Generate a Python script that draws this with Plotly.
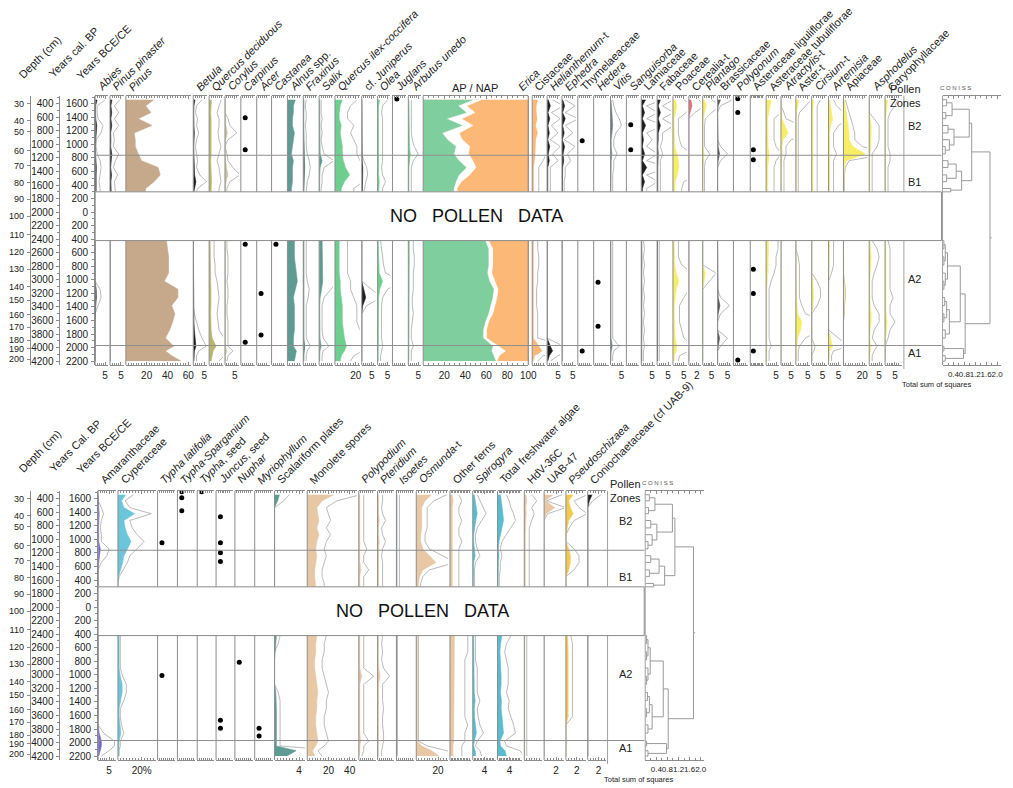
import plotly.graph_objects as go

W, H = 1013, 788
FONT = "Liberation Sans, Arial, Helvetica, sans-serif"
TXT = "#222222"
AXC = "#8c8c8c"

# ---------------- data ----------------
sample_age = [340, 430, 530, 620, 720, 830, 930, 1030, 1140, 1240, 1340, 1450, 1550, 1650, 1700,
              2420, 2540, 2660, 2780, 2900, 3020, 3140, 3260, 3380, 3500, 3620, 3740, 3860, 3980, 4050, 4120, 4200]
hiatus_age = [1700, 2420]
zone_bounds = [1160, 3970]
zone_names = ["B2", "B1", "A2", "A1"]
zone_label_age = [730, 1560, 2985, 4080]

depth_cm = [20, 30, 40, 50, 60, 70, 80, 90, 100, 110, 120, 130, 140, 150, 160, 170, 180, 190, 200]
depth_age = [280, 400, 650, 810, 1090, 1310, 1560, 1810, 2060, 2330, 2590, 2840, 3100, 3300, 3510, 3700, 3890, 4020, 4170]
cal_bp_ticks = [200, 400, 600, 800, 1000, 1200, 1400, 1600, 1800, 2000, 2200, 2400, 2600, 2800, 3000,
                3200, 3400, 3600, 3800, 4000, 4200]
bce_ce_labels = ["1800", "1600", "1400", "1200", "1000", "800", "600", "400", "200", "0", "200", "400",
                 "600", "800", "1000", "1200", "1400", "1600", "1800", "2000", "2200"]

# top diagram taxa (percent)
abies = [1.0, 0.2, 0.2, 0.3, 0.8, 0.6, 0.1, 0.1, 0.2, 0.5, 0.6, 0.5, 0.4, 0.5, 0.5,
         0, 0, 0, 0, 0, 0, 0.5, 0.6, 0.3, 0, 0, 0, 0, 0, 0, 0, 0]
pinus_pinaster = [0.9, 0.4, 0.8, 0.4, 0.8, 0.3, 0.4, 0.3, 0.8, 0.5, 0.3, 0.7, 0.4, 0.5, 0.5,
                  0, 0, 0, 0, 0, 0, 0, 0, 0, 0, 0, 0, 0, 0, 0, 0, 0]
pinus = [27, 19, 24, 12, 25, 8, 9, 9, 12, 15, 31, 33, 27, 19, 19,
         39, 40, 41, 41, 41, 37, 50, 50, 44, 47, 45, 42, 38, 46, 38, 44, 53]
betula = [0.8, 0.3, 0.2, 0.4, 0.3, 0.5, 0.3, 0.2, 0.3, 0.4, 0.3, 0.6, 1.2, 0.4, 0.3,
          0, 0, 0, 0, 0, 0, 0, 0, 0, 0.1, 0.3, 0.5, 0.8, 1.2, 0.5, 0.3, 0.3]
quercus_deciduous = [1.2, 1.0, 0.8, 1.0, 1.0, 0.9, 1.0, 1.2, 1.0, 0.8, 1.0, 1.1, 1.2, 1.0, 1.0,
                     0.5, 0.5, 0.5, 0.6, 0.6, 0.8, 0.9, 1.0, 0.9, 0.8, 0.9, 1.0, 1.5, 3.5, 2.0, 1.5, 1.0]
corylus = [0, 0, 0, 0.3, 0.5, 1.2, 0.3, 0, 0.2, 0.3, 0.8, 1.5, 0.5, 0.2, 0.2,
           0.2, 0.2, 0.3, 0.3, 0.3, 0.2, 0.3, 0.3, 0.2, 0.2, 0.3, 0.3, 0.3, 0.3, 0.8, 0.3, 0.2]
carpinus_ages = [605, 1080, 2475, 3920]
acer_ages = [3200, 3815]
castanea_ages = [2475]
alnus = [8, 6, 6, 5, 5, 7, 6, 5, 4, 6, 5, 5, 5, 4, 4,
         7, 7, 7, 8, 9, 10, 8, 6, 7, 7, 7, 7, 6, 6, 9, 8, 7]
fraxinus = [0.3, 0.2, 0.3, 0.3, 0.2, 0.3, 0.3, 0.3, 0.4, 0.6, 0.7, 0.6, 0.4, 0.3, 0.3,
            0.3, 0.3, 0.3, 0.3, 0.3, 0.4, 0.6, 0.5, 0.3, 0.3, 0.3, 0.3, 0.3, 0.7, 0.4, 0.3, 0.3]
salix = [0.2, 0.2, 0.2, 0.3, 0.2, 0.3, 0.2, 0.3, 0.5, 1.5, 0.5, 0.3, 0.3, 0.2, 0.2,
         1.5, 1.6, 1.5, 1.5, 1.6, 1.8, 1.2, 0.5, 0.3, 0.3, 0.3, 0.3, 0.4, 1.0, 0.4, 0.3, 0.3]
quercus_ilex = [7, 5, 4, 4, 6, 5, 6, 7, 7, 8, 10, 14, 9, 6, 6,
                4, 4, 4, 4, 4, 5, 5, 6, 7, 7, 7, 8, 9, 11, 9, 6, 5]
juniperus = [0, 0, 0, 0, 0, 0, 0, 0, 0, 0.2, 0.5, 0.6, 0.4, 0.3, 0.2,
             0, 0, 0, 0, 0, 0, 1.0, 2.0, 0.5, 0, 0, 0, 0, 0, 0, 0, 0]
olea = [1.0, 0.5, 0.4, 0.5, 0.5, 0.5, 0.5, 0.5, 0.5, 0.5, 0.4, 0.5, 0.8, 0.5, 0.5,
        0.3, 0.4, 0.5, 0.6, 0.8, 2.5, 1.0, 0.5, 0.4, 0.4, 0.4, 0.4, 0.4, 0.5, 0.4, 0.3, 0.3]
juglans_ages = [330]
arbutus = [0.3, 0.3, 0.3, 0.3, 0.3, 0.3, 0.4, 0.6, 1.0, 0.5, 0.3, 0.3, 0.3, 0.3, 0.3,
           0.5, 0.5, 0.6, 0.6, 0.5, 0.5, 0.5, 0.4, 0.4, 0.5, 0.4, 0.3, 0.3, 0.5, 0.3, 0.3, 0.3]
ap_sum = [47, 33, 41, 22, 37, 18, 23, 31, 29, 34, 41, 34, 31, 29, 29,
          59, 62, 62, 62, 61, 63, 67, 66, 64, 62, 59, 57, 57, 66, 65, 67, 69]
ap_gap = [55, 41, 49, 36, 47, 34, 37, 44, 43, 47, 50, 44, 36, 32, 32,
          62, 66, 66, 66, 65, 68, 71, 70, 68, 66, 62, 60, 60, 72, 78, 72, 70]
apnap_total = 100
cistaceae = [2.5, 1.8, 1.8, 2.2, 1.5, 2.4, 1.5, 1.5, 1.3, 1.0, 0.6, 0.6, 0.6, 0.6, 0.6,
             0.5, 0.5, 0.6, 0.6, 0.5, 0.5, 0.4, 0.4, 0.4, 0.5, 0.5, 0.5, 0.5, 3.0, 4.5, 1.0, 0.5]
helianthemum = [0.5, 1.5, 0.4, 1.2, 0.4, 1.0, 0.3, 1.2, 0.5, 1.0, 0.3, 0.3, 0.3, 0.3, 0.3,
                0, 0, 0, 0, 0, 0, 0, 0, 0, 0, 0, 0, 0, 1.5, 2.5, 1.0, 0.3]
ephedra = [0.3, 1.2, 0.3, 1.5, 0.3, 1.0, 0.2, 1.2, 0.5, 0.8, 0.3, 0.3, 0.2, 0.2, 0.2,
           0, 0, 0, 0, 0, 0, 0, 0, 0, 0, 0, 0, 0, 0, 0, 0, 0]
thymelaeaceae_ages = [945, 4050]
hedera_ages = [3035, 3685]
vitis = [0.2, 0.3, 0.5, 0.8, 1.0, 0.5, 0.3, 0.3, 0.6, 0.3, 0.3, 0.2, 0.2, 0.2, 0.2,
         0.2, 0.2, 0.2, 0.2, 0.2, 0.2, 0.2, 0.2, 0.2, 0.2, 0.2, 0.2, 0.2, 0.8, 0.3, 0.2, 0.2]
sanguisorba_ages = [710, 1080]
lamiaceae = [2.0, 0.5, 1.5, 0.5, 2.0, 0.5, 1.0, 0.5, 1.5, 0.5, 2.5, 0.5, 1.5, 0.5, 0.5,
             0.2, 0.3, 0.2, 0.3, 0.2, 0.3, 0.2, 0.3, 0.2, 0.3, 0.2, 0.3, 0.2, 0.3, 0.2, 0.2, 0.2]
fabaceae = [1.5, 0.5, 1.5, 0.5, 1.5, 0.5, 0.5, 0.3, 0.5, 0.3, 0.3, 0.3, 0.3, 0.3, 0.3,
            0.2, 0.2, 0.2, 0.2, 0.2, 0.2, 0.2, 0.2, 0.2, 0.2, 0.2, 0.2, 0.2, 0.2, 0.2, 0.2, 0.2]
poaceae = [1.0, 1.8, 1.2, 0.5, 0.5, 0.5, 0.6, 0.8, 1.8, 2.5, 2.7, 2.0, 1.0, 0.8, 0.8,
           0.5, 0.5, 0.5, 0.8, 1.5, 2.7, 1.5, 1.0, 0.6, 0.6, 0.6, 0.8, 1.0, 1.8, 1.5, 0.6, 0.5]
cerealia = [0.5, 0.8, 0.3, 0, 0, 0, 0, 0, 0, 0, 0, 0, 0, 0, 0,
            0, 0, 0, 0, 0, 0, 0, 0, 0, 0, 0, 0, 0, 0, 0, 0, 0]
plantago = [1.0, 2.0, 1.0, 0.3, 0.2, 0.2, 0.2, 0.2, 0.8, 0.3, 0.2, 0.2, 0.2, 0.2, 0.2,
            0, 0, 0, 0, 1.5, 0.8, 0, 0, 0, 0, 0, 0, 0, 0, 0, 0, 0]
brassicaceae = [1.5, 0.3, 0, 0, 0, 0, 0, 0.3, 1.0, 0.3, 0, 0, 0, 0, 0,
                0, 0, 0, 0, 0, 0, 0, 0.3, 1.2, 0.3, 0, 0, 1.0, 0.3, 0, 0, 0]
polygonum_ages = [325, 530, 4185]
ast_lig_ages = [1080, 1225, 2845, 3200, 4050]
ast_tub = [2.5, 2.0, 1.5, 0.8, 0.8, 0.8, 0.8, 1.0, 1.5, 1.0, 0.8, 0.8, 0.8, 0.8, 0.8,
           1.2, 1.2, 1.0, 1.0, 0.8, 0.5, 0.3, 0.3, 0.3, 0.3, 0.3, 0.3, 0.3, 0.5, 0.3, 0.3, 0.3]
atractylis = [0, 0, 0.3, 0.5, 2.0, 3.5, 1.0, 0.5, 0.5, 0.3, 0.3, 0.3, 0.3, 0.3, 0.3,
              0, 0, 0, 0, 0, 0, 0, 0, 0, 0, 0, 0, 0, 0, 0, 0, 0]
aster_t = [1.3, 0.8, 0.3, 0.2, 0.2, 0.2, 0.2, 0.2, 0.2, 0.2, 0.2, 0.2, 0.2, 0.2, 0.2,
           0, 0, 0.2, 0.3, 0.3, 0.3, 0.3, 0.3, 0.5, 0.8, 2.5, 2.0, 0.8, 0.3, 0.2, 0.2, 0.2]
cirsium = [0.8, 0.5, 0.5, 0.5, 0.5, 0.5, 0.5, 0.5, 0.5, 0.5, 0.5, 0.5, 0.5, 0.5, 0.5,
           0, 0, 0, 0, 0, 0.5, 0.8, 0.8, 0.5, 0, 0, 0, 0, 0.3, 0.2, 0, 0]
artemisia = [0.5, 0.8, 1.5, 2.0, 1.0, 0.5, 0.5, 0.5, 0.8, 0.5, 0.5, 0.5, 0.5, 0.5, 0.5,
             0.5, 0.5, 0.5, 0.5, 0.3, 0, 0, 0, 0, 0, 0, 0, 1.0, 2.0, 0.5, 0.3, 0.3]
apiaceae = [1, 2, 3, 4, 5, 6, 6, 10, 23, 3, 1, 0.5, 0.5, 0.5, 0.5,
            0, 0, 0, 0, 0, 0.5, 1.0, 1.0, 0.5, 0.5, 0, 0, 0, 0, 0, 0, 0]
asphodelus = [0, 0, 0, 0.5, 1.0, 1.0, 1.0, 0.8, 0.3, 0.3, 0.3, 0.3, 0.3, 0.3, 0.3,
              0.3, 0.8, 1.0, 0.8, 0.5, 0.3, 0.3, 0.3, 0.5, 1.0, 1.0, 0.5, 0.3, 0.8, 0.5, 0.3, 0.3]
caryophyllaceae = [1.3, 1.0, 0.5, 0.3, 0.3, 0.3, 0.3, 0.3, 0.5, 0.5, 0.3, 0.3, 0.3, 0.3, 0.3,
                   0.3, 0.5, 0.5, 0.5, 0.5, 0.5, 0.5, 0.8, 0.5, 0.5, 1.0, 0.5, 0.3, 0, 0, 0, 0]

# bottom diagram taxa
amaranthaceae = [0, 0, 0.3, 0.5, 0.3, 0.2, 0.3, 0.3, 1.0, 0.8, 0.3, 0, 0, 0, 0,
                 0, 0, 0, 0, 0, 0, 0, 0, 0, 0, 0, 0, 0.5, 1.5, 1.5, 1.0, 0.3]
cyperaceae = [6.5, 3, 5, 14, 5, 6, 8, 11, 8, 5, 4, 2, 0.5, 0, 0,
              1, 1, 1, 1, 1, 2, 3.5, 3.5, 2.5, 1, 1, 1.5, 2.5, 1, 1, 0.5, 0.5]
typha_latifolia_ages = [1050, 3010]
typha_sparganium_ages = [295, 385, 575]
typha_seed_ages = [295]
juncus_seed_ages = [665, 1050, 1195, 1325, 3670, 3790]
nuphar_ages = [2815]
myriophyllum_ages = [3790, 3905]
scalariform = [0.8, 0.5, 0, 0, 0, 0, 0, 0, 0, 0, 0, 0, 0, 0, 0,
               0.3, 0.2, 0, 0, 0, 0, 0, 0.2, 0.3, 0.3, 0.3, 0.3, 0.3, 0.3, 0.3, 3.5, 2.0]
monolete = [25, 14, 9, 10, 11, 9, 11, 9, 8, 9, 8, 7, 7, 8, 8,
            9, 8, 8, 7, 7, 8, 9, 10, 9, 9, 8, 8, 9, 10, 8, 5, 7]
polypodium = [0.5, 0.5, 0.5, 0.5, 0.5, 0.5, 0.5, 0.5, 0.8, 0.5, 0.5, 1.0, 0.5, 0.5, 0.5,
              0.5, 0.5, 0.5, 0.5, 0.5, 1.5, 0.5, 0.5, 0.5, 0.5, 0.5, 0.5, 0.5, 1.0, 0.5, 0.5, 0.3]
pteridium = [0.5, 0.5, 0.4, 0.5, 0.8, 0.4, 0.5, 0.8, 0.5, 0.4, 0.5, 0.5, 0.5, 0.5, 0.5,
             0.5, 0.4, 0.5, 0.4, 0.6, 1.2, 0.5, 0.5, 0.5, 0.6, 0.5, 0.5, 0.6, 0.6, 0.5, 0.4, 0.4]
isoetes = [0.3, 0.3, 0.3, 0.3, 0.3, 0.3, 0.3, 0.3, 0.3, 0.3, 0.3, 0.3, 0.3, 0.3, 0.3,
           0.1, 0.1, 0.1, 0.1, 0.1, 0.1, 0.1, 0.1, 0.1, 0.1, 0.1, 0.1, 0.1, 0.1, 0.1, 0.1, 0.1]
osmunda = [14, 8, 5, 5, 5, 5, 4, 4, 6, 12, 18, 6, 3, 2, 2,
           1, 1, 1, 1, 1, 1, 1, 1, 1, 1, 1, 1, 1, 1, 5, 14, 21]
other_ferns = [1.5, 2, 1.5, 1.5, 2, 1.5, 1.5, 2, 1.5, 1.5, 1.5, 1.5, 1.5, 1.5, 1.5,
               3, 3, 3, 2.5, 2.5, 2.5, 2.5, 2.5, 2.5, 2.5, 2.5, 3, 2.5, 2.5, 2, 2, 2]
spirogyra = [0.5, 0.8, 1.2, 1.5, 1.0, 0.5, 0.3, 0.3, 0.5, 0.8, 0.3, 0.2, 0.2, 0.2, 0.2,
             0.3, 0.3, 0.3, 0.3, 0.5, 0.5, 0.5, 0.5, 0.8, 0.5, 0.6, 0.8, 1.2, 0.5, 0.3, 0.8, 1.0]
fw_algae = [1.0, 1.3, 1.5, 1.8, 2.0, 1.5, 1.0, 0.5, 0.3, 0.5, 0.3, 0.3, 0.2, 0.2, 0.2,
            1.5, 1.0, 0.8, 1.0, 1.2, 1.2, 1.2, 1.0, 1.3, 1.2, 1.5, 1.8, 2.0, 0.8, 1.0, 2.5, 3.0]
hdv36c = [0.3, 0.5, 0.3, 0.4, 0.3, 0.2, 0.2, 0.2, 0.2, 0.2, 0.2, 0.2, 0.2, 0.2, 0.2,
          0.1, 0.1, 0.1, 0.1, 0.1, 0.1, 0.1, 0.1, 0.1, 0.1, 0.1, 0.1, 0.1, 0.1, 0.1, 0.1, 0.1]
uab47 = [1.5, 0.2, 1.8, 0.3, 0, 0, 0, 0, 0, 0, 0, 0, 0, 0, 0,
         0, 0, 0, 0, 0, 0, 0, 0, 0, 0, 0, 0, 0, 0, 0, 0, 0]
pseudoschizaea = [1.3, 0.5, 0.8, 1.3, 0.5, 0.2, 0, 0, 0.5, 0.8, 0.8, 0.5, 0, 0, 0,
                  0.3, 0.4, 0.4, 0.4, 0.4, 0.4, 0.4, 0.4, 0.4, 0.4, 0.4, 0, 0, 0, 0, 0, 0]
coniochaetaceae = [0.8, 0.3, 0, 0, 0, 0, 0, 0, 0, 0, 0, 0, 0, 0, 0,
                   0, 0, 0, 0, 0, 0, 0, 0, 0, 0, 0, 0, 0, 0, 0, 0, 0]

# CONISS merges: [first leaf, split leaf, end leaf, total sum of squares]
coniss_merges = [
    [0, 1, 2, 0.15], [2, 3, 4, 0.12], [0, 2, 4, 0.35], [4, 5, 6, 0.2], [7, 8, 9, 0.1], [6, 7, 9, 0.25],
    [4, 6, 9, 0.42], [0, 4, 9, 0.98],
    [9, 10, 11, 0.2], [11, 12, 13, 0.15], [9, 11, 13, 0.5], [13, 14, 15, 0.3], [9, 13, 15, 0.7],
    [0, 9, 15, 1.07],
    [15, 16, 17, 0.05], [17, 18, 19, 0.05], [15, 17, 19, 0.1], [20, 21, 22, 0.05], [19, 20, 22, 0.1],
    [15, 19, 22, 0.18],
    [22, 23, 24, 0.08], [24, 25, 26, 0.05], [22, 24, 26, 0.15], [26, 27, 28, 0.1], [22, 26, 28, 0.25],
    [15, 22, 28, 0.65],
    [28, 29, 30, 0.05], [30, 31, 32, 0.1], [28, 30, 32, 0.77], [15, 28, 32, 0.83],
    [0, 15, 32, 1.74],
]

# ---------------- colours ----------------
BLACK = "#1e1e1e"
BROWN = "#c6a98b"
OLIVE = "#b9b66c"
OLIVE2 = "#c9c7a0"
TEAL = "#5e9b93"
TEAL_D = "#3f6f6a"
QGREEN = "#6dcf8e"
APGREEN = "#7ecf9d"
ORANGE = "#fbb877"
YELLOW = "#f6ef66"
RED = "#e0707a"
GREYF = "#6f7f86"
BLUE = "#6cc6da"
BLUE2 = "#58bccf"
TAN = "#e8c7a5"
PURPLE = "#7468d8"
GOLD = "#f5c84e"
STEEL = "#7aa7b8"
EXAG = "#a8a8a8"

# ---------------- geometry helpers ----------------
def px(x):
    return x / W


def py(y):
    return 1 - y / H


PX_PER_YR = 0.06788
PANELS = {
    "top": dict(y="y", top=96, bottom=366, ref=90.5, left=96, right=950, lab=91, zone_x=912,
                zone_lab_x=931, coniss=(951, 1012, 27.5)),
    "bot": dict(y="y2", top=492, bottom=762, ref=486.5, left=99, right=650, lab=485, zone_x=613,
                zone_lab_x=631, coniss=(651, 712, 28.0)),
}


def age_at(pix, panel):
    return 200 + (pix - panel["ref"]) / PX_PER_YR


fig = go.Figure()
layout = {}
shapes = []
annotations = []
ax_counter = [0]

sections = [[i for i, a in enumerate(sample_age) if a <= hiatus_age[0]],
            [i for i, a in enumerate(sample_age) if a >= hiatus_age[1]]]


def new_xaxis(x0, x1, scale, panel, tickvals, ticktext=None, minor_dtick=None, fsize=10):
    ax_counter[0] += 1
    n = ax_counter[0]
    key = "xaxis" if n == 1 else f"xaxis{n}"
    ref = "x" if n == 1 else f"x{n}"
    width = x1 - x0
    d = dict(domain=[px(x0), px(x1)], range=[0, width / scale], anchor=panel["y"],
             showgrid=False, zeroline=False, showline=True, linecolor=AXC, linewidth=1,
             mirror="ticks", ticks="inside", ticklen=3, tickcolor=AXC, fixedrange=True,
             tickfont=dict(size=fsize, color=TXT, family=FONT), tickmode="array", tickangle=0,
             tickvals=tickvals, ticktext=ticktext if ticktext else [str(v) for v in tickvals],
             showticklabels=bool(tickvals), ticklabelstandoff=1)
    if minor_dtick:
        d["minor"] = dict(dtick=minor_dtick, ticks="inside", ticklen=2, tickcolor=AXC, showgrid=False)
    layout[key] = d
    return ref


def vline(x, y0p, y1p, color=AXC, width=1):
    shapes.append(dict(type="line", xref="paper", yref="paper", x0=px(x), x1=px(x),
                       y0=py(y0p), y1=py(y1p), line=dict(color=color, width=width)))


def rot_label(text, x, ybase, size=11):
    annotations.append(dict(text=text, x=px(x - 1), y=py(ybase + 2), xref="paper", yref="paper",
                            xanchor="left", yanchor="bottom", textangle=-45, showarrow=False,
                            borderpad=0, borderwidth=0,
                            font=dict(size=size, color=TXT, family=FONT)))


def add_area(xr, yr, values, color, exag):
    for sec in sections:
        ages = [sample_age[i] for i in sec]
        vals = [values[i] for i in sec]
        if exag:
            fig.add_trace(go.Scatter(x=[v * exag for v in vals], y=ages, xaxis=xr, yaxis=yr,
                                     mode="lines", line=dict(color=EXAG, width=0.8),
                                     hoverinfo="skip", showlegend=False))
        fig.add_trace(go.Scatter(x=vals, y=ages, xaxis=xr, yaxis=yr, mode="lines", fill="tozerox",
                                 fillcolor=color, line=dict(color=color, width=0.6),
                                 hoverinfo="skip", showlegend=False))


def add_dots(xr, yr, ages):
    fig.add_trace(go.Scatter(x=[2.2] * len(ages), y=ages, xaxis=xr, yaxis=yr, mode="markers",
                             marker=dict(color="black", size=5), hoverinfo="skip", showlegend=False))


def add_apnap(xr, yr):
    for sec in sections:
        ages = [sample_age[i] for i in sec]
        fig.add_trace(go.Scatter(x=[apnap_total] * len(ages), y=ages, xaxis=xr, yaxis=yr, mode="lines",
                                 fill="tozerox", fillcolor=ORANGE, line=dict(color=ORANGE, width=0.5),
                                 hoverinfo="skip", showlegend=False))
        fig.add_trace(go.Scatter(x=[ap_gap[i] for i in sec], y=ages, xaxis=xr, yaxis=yr, mode="lines",
                                 fill="tozerox", fillcolor="white", line=dict(color="white", width=1),
                                 hoverinfo="skip", showlegend=False))
        fig.add_trace(go.Scatter(x=[ap_sum[i] for i in sec], y=ages, xaxis=xr, yaxis=yr, mode="lines",
                                 fill="tozerox", fillcolor=APGREEN, line=dict(color=APGREEN, width=0.5),
                                 hoverinfo="skip", showlegend=False))


def add_dendrogram(xr, yr):
    nodes = {(i, i + 1): (a, 0.0) for i, a in enumerate(sample_age)}
    xs, ys = [], []
    for a, b, c, h in coniss_merges:
        yl, hl = nodes[(a, b)]
        yr_, hr = nodes[(b, c)]
        xs += [hl, h, h, hr, None]
        ys += [yl, yl, yr_, yr_, None]
        nodes[(a, c)] = ((yl + yr_) / 2, h)
    ry, rh = nodes[(0, len(sample_age))]
    xs += [rh, rh + 0.06]
    ys += [ry, ry]
    fig.add_trace(go.Scatter(x=xs, y=ys, xaxis=xr, yaxis=yr, mode="lines",
                             line=dict(color="#9a9a9a", width=1), hoverinfo="skip", showlegend=False))


# column definitions: label, x0, x1, kind, data, colour, px per unit, exaggeration, tick labels
TOP_COLUMNS = [
    ("<i>Abies</i>", 96, 111, "area", abies, BLACK, 2.0, 5, [5]),
    ("<i>Pinus pinaster</i>", 111, 127, "area", pinus_pinaster, BLACK, 2.2, 5, [5]),
    ("<i>Pinus</i>", 127, 195, "area", pinus, BROWN, 1.05, None, [20, 40, 60]),
    ("<i>Betula</i>", 195, 211, "area", betula, BLACK, 2.2, 5, [5]),
    ("<i>Quercus deciduous</i>", 211, 227, "area", quercus_deciduous, OLIVE, 2.0, 5, []),
    ("<i>Corylus</i>", 227, 243, "area", corylus, OLIVE2, 2.0, 5, [5]),
    ("<i>Carpinus</i>", 243, 259, "dots", carpinus_ages, None, 2.0, None, []),
    ("<i>Acer</i>", 259, 274, "dots", acer_ages, None, 2.0, None, []),
    ("<i>Castanea</i>", 274, 290, "dots", castanea_ages, None, 2.0, None, []),
    ("<i>Alnus</i> spp.", 290, 306, "area", alnus, TEAL, 1.0, None, []),
    ("<i>Fraxinus</i>", 306, 322, "area", fraxinus, TEAL_D, 2.0, 5, []),
    ("<i>Salix</i>", 322, 338, "area", salix, TEAL, 2.0, 5, []),
    ("<i>Quercus ilex-coccifera</i>", 338, 365, "area", quercus_ilex, QGREEN, 1.05, 3, [20]),
    ("cf. <i>Juniperus</i>", 365, 381, "area", juniperus, BLACK, 2.0, 5, [5]),
    ("<i>Olea</i>", 381, 396, "area", olea, QGREEN, 2.0, 5, [5]),
    ("<i>Juglans</i>", 396, 412, "dots", juglans_ages, None, 2.0, None, []),
    ("<i>Arbutus unedo</i>", 412, 427, "area", arbutus, QGREEN, 2.0, 5, [5]),
    (None, 427, 535, "apnap", None, None, 1.06, None, [20, 40, 60, 80, 100]),
    ("Cistaceae", 537, 552, "area", cistaceae, ORANGE, 2.2, 5, []),
    ("<i>Helianthemum</i>-t", 552, 567, "area", helianthemum, BLACK, 2.2, 5, [5]),
    ("<i>Ephedra</i>", 567, 583, "area", ephedra, BLACK, 2.2, 5, [5]),
    ("Thymelaeaceae", 583, 599, "dots", thymelaeaceae_ages, None, 2.0, None, []),
    ("<i>Hedera</i>", 599, 616, "dots", hedera_ages, None, 2.0, None, []),
    ("<i>Vitis</i>", 616, 632, "area", vitis, GREYF, 2.2, 5, [5]),
    ("<i>Sanguisorba</i>", 632, 647, "dots", sanguisorba_ages, None, 2.0, None, []),
    ("Lamiaceae", 647, 663, "area", lamiaceae, BLACK, 2.2, 5, [5]),
    ("Fabaceae", 663, 679, "area", fabaceae, BLACK, 2.2, 5, [5]),
    ("Poaceae", 679, 695, "area", poaceae, YELLOW, 2.2, 5, [5]),
    ("Cerealia-t", 695, 709, "area", cerealia, RED, 4.0, 5, [2]),
    ("<i>Plantago</i>", 709, 724, "area", plantago, YELLOW, 1.8, 5, [5]),
    ("Brassicaceae", 724, 740, "area", brassicaceae, "#555555", 2.0, 5, [5]),
    ("<i>Polygonum</i>", 740, 757, "dots", polygonum_ages, None, 2.0, None, []),
    ("Asteraceae liguliflorae", 757, 773, "dots", ast_lig_ages, None, 1.4, None, []),
    ("Asteraceae tubuliflorae", 773, 788, "area", ast_tub, YELLOW, 2.0, 5, [5]),
    ("<i>Atractylis</i>-t", 788, 803, "area", atractylis, YELLOW, 2.0, 5, [5]),
    ("Aster-t", 803, 819, "area", aster_t, YELLOW, 2.4, 5, [5]),
    ("<i>Cirsium</i>-t", 819, 836, "area", cirsium, YELLOW, 2.2, 5, [5]),
    ("<i>Artemisia</i>", 836, 851, "area", artemisia, YELLOW, 2.0, 5, [5]),
    ("Apiaceae", 851, 877, "area", apiaceae, YELLOW, 0.95, 2, [20]),
    ("<i>Asphodelus</i>", 877, 893, "area", asphodelus, YELLOW, 2.0, 5, [5]),
    ("Caryophyllaceae", 893, 912, "area", caryophyllaceae, YELLOW, 2.0, 5, [5]),
]

BOT_COLUMNS = [
    ("Amaranthaceae", 99, 119, "area", amaranthaceae, PURPLE, 2.2, 5, [5], None),
    ("Cyperaceae", 119, 159, "area", cyperaceae, BLUE, 1.2, 2, [20], ["20%"]),
    ("<i>Typha latifolia</i>", 159, 179, "dots", typha_latifolia_ages, None, 2.0, None, [], None),
    ("<i>Typha-Sparganium</i>", 179, 199, "dots", typha_sparganium_ages, None, 2.0, None, [], None),
    ("<i>Typha</i>, seed", 199, 218, "dots", typha_seed_ages, None, 2.0, None, [], None),
    ("<i>Juncus</i>, seed", 218, 237, "dots", juncus_seed_ages, None, 2.0, None, [], None),
    ("<i>Nuphar</i>", 237, 257, "dots", nuphar_ages, None, 2.0, None, [], None),
    ("<i>Myriophyllum</i>", 257, 277, "dots", myriophyllum_ages, None, 2.0, None, [], None),
    ("Scalariform plates", 277, 310, "area", scalariform, TEAL, 6.2, 3, [4], None),
    ("Monolete spores", 310, 362, "area", monolete, TAN, 1.07, 2, [20, 40], None),
    ("<i>Polypodium</i>", 362, 381, "area", polypodium, TAN, 2.0, 5, [], None),
    ("<i>Pteridium</i>", 381, 400, "area", pteridium, TAN, 2.0, 5, [], None),
    ("<i>Isoetes</i>", 400, 420, "area", isoetes, STEEL, 2.0, 5, [], None),
    ("<i>Osmunda</i>-t", 420, 454, "area", osmunda, TAN, 1.1, 2, [20], None),
    ("Other ferns", 454, 477, "area", other_ferns, TAN, 1.5, 4, [], None),
    ("<i>Spirogyra</i>", 477, 502, "area", spirogyra, BLUE2, 3.0, 3, [4], None),
    ("Total freshwater algae", 502, 529, "area", fw_algae, BLUE2, 3.0, 3, [4], None),
    ("HdV-36C", 529, 549, "area", hdv36c, TAN, 5.0, 5, [], None),
    ("UAB-47", 549, 571, "area", uab47, TAN, 6.0, 2, [2], None),
    ("<i>Pseudoschizaea</i>", 571, 593, "area", pseudoschizaea, GOLD, 5.5, 3, [2], None),
    ("Coniochaetaceae (cf UAB-9)", 593, 613, "area", coniochaetaceae, BLACK, 5.5, 3, [2], None),
]


def build_panel(pname, columns):
    P = PANELS[pname]
    yr = P["y"]
    for col in columns:
        label, x0, x1, kind, data, color, scale, exag, ticks = col[:9]
        ttext = col[9] if len(col) > 9 else None
        minor = 2.5 if scale <= 1.2 else (1 if scale < 3 else 0.5)
        if kind == "apnap":
            minor = 5
        xr = new_xaxis(x0, x1 - 2, scale, P, ticks, ttext, minor)
        vline(x0, P["top"], P["bottom"])
        if kind == "area":
            add_area(xr, yr, data, color, exag)
        elif kind == "dots":
            add_dots(xr, yr, data)
        elif kind == "apnap":
            add_apnap(xr, yr)
            vline(x1 - 2, P["top"], P["bottom"], color="#777777")
        if label:
            rot_label(label, x0 + 1, P["lab"])
    # CONISS
    cx0, cx1, cscale = P["coniss"]
    xr = new_xaxis(cx0, cx1 - 2, cscale, P, [0.4, 0.8, 1.2, 1.6, 2.0], ["0.4", "0.8", "1.2", "1.6", "2.0"],
                   0.2, fsize=8)
    add_dendrogram(xr, yr)
    vline(cx0, P["top"], P["bottom"], color="#a0a0a0")
    vline(P["zone_x"], P["top"], P["bottom"] + 4, color="#a0a0a0")
    # hiatus box
    shapes.append(dict(type="rect", xref="paper", yref=yr, x0=px(P["left"]), x1=px(P["right"]),
                       y0=hiatus_age[0], y1=hiatus_age[1], fillcolor="white",
                       line=dict(color="#8a8a8a", width=1), layer="above"))
    # zone lines
    for zb in zone_bounds:
        shapes.append(dict(type="line", xref="paper", yref=yr, x0=px(P["left"]), x1=px(P["right"]),
                           y0=zb, y1=zb, line=dict(color="#8f8f8f", width=1)))
    for zn, za in zip(zone_names, zone_label_age):
        annotations.append(dict(text=zn, x=px(P["zone_lab_x"]), y=za, xref="paper", yref=yr,
                                showarrow=False, font=dict(size=11, color=TXT, family=FONT)))
    annotations.append(dict(text="Pollen<br>Zones", x=px(P["zone_lab_x"]), y=py(P["top"]),
                            xref="paper", yref="paper", yanchor="middle", showarrow=False,
                            font=dict(size=11, color=TXT, family=FONT)))
    annotations.append(dict(text="C O N I S S", x=px((cx0 + cx1) / 2), y=py(P["top"] - 3),
                            xref="paper", yref="paper", yanchor="bottom", showarrow=False,
                            font=dict(size=6, color="#555555", family=FONT)))
    annotations.append(dict(text="Total sum of squares", x=px((cx0 + cx1) / 2), y=py(P["bottom"] + 13),
                            xref="paper", yref="paper", yanchor="top", showarrow=False,
                            font=dict(size=7.5, color=TXT, family=FONT)))
    # no pollen data
    cx = 481 if pname == "top" else 337
    annotations.append(dict(text="NO\u00a0\u00a0\u00a0POLLEN\u00a0\u00a0\u00a0DATA", x=px(cx),
                            y=(hiatus_age[0] + hiatus_age[1]) / 2, xref="paper", yref=yr,
                            showarrow=False, font=dict(size=18, color="#111111", family=FONT)))
    # main panel y axis
    ykey = "yaxis" if yr == "y" else "yaxis2"
    rng = [age_at(P["bottom"], P), age_at(P["top"], P)]
    layout[ykey] = dict(domain=[py(P["bottom"]), py(P["top"])], range=rng, visible=False,
                        anchor="free", position=0, fixedrange=True)
    return rng


rng_top = build_panel("top", TOP_COLUMNS)
rng_bot = build_panel("bot", BOT_COLUMNS)

# AP/NAP and Erica labels
annotations.append(dict(text="AP / NAP", x=px(479), y=py(88), xref="paper", yref="paper",
                        xanchor="center", yanchor="middle",
                        showarrow=False, font=dict(size=11, color=TXT, family=FONT)))
rot_label("<i>Erica</i>", 521, 91)

# left age / depth axes
y_idx = [3]


def side_axis(base, rng, xpos, tickvals, ticktext, minor=None, fsize=10):
    n = y_idx[0]
    y_idx[0] += 1
    d = dict(overlaying=base, anchor="free", position=px(xpos), side="left", range=rng,
             showgrid=False, zeroline=False, showline=True, linecolor=AXC, linewidth=1,
             ticks="outside", ticklen=3, tickcolor=AXC, tickmode="array", tickvals=tickvals,
             ticktext=ticktext, tickfont=dict(size=fsize, color=TXT, family=FONT), fixedrange=True,
             ticklabelstandoff=1)
    if minor:
        d["minor"] = dict(dtick=minor, ticks="outside", ticklen=2, tickcolor=AXC, showgrid=False)
    layout[f"yaxis{n}"] = d
    fig.add_trace(go.Scatter(x=[0], y=[rng[1]], xaxis="x", yaxis=f"y{n}", mode="markers",
                             marker=dict(opacity=0), hoverinfo="skip", showlegend=False))


for base, rng, x_bce in (("y", rng_top, 95), ("y2", rng_bot, 98)):
    side_axis(base, rng, 30, depth_age, [str(d) for d in depth_cm], fsize=9)
    side_axis(base, rng, 60, cal_bp_ticks, [str(t) for t in cal_bp_ticks], minor=100)
    side_axis(base, rng, x_bce, cal_bp_ticks, bce_ce_labels, minor=100)

for (t1, t2), yb in ((("Years cal. BP", "Years BCE/CE"), 79), (("Years Cal. BP", "Years BCE/CE"), 474)):
    rot_label("Depth (cm)", 18, yb)
    rot_label(t1, 48, yb - 1)
    rot_label(t2, 76, yb + 1)

fig.update_layout(
    width=W, height=H, margin=dict(l=0, r=0, t=0, b=0), autosize=False,
    paper_bgcolor="white", plot_bgcolor="white", showlegend=False,
    shapes=shapes, annotations=annotations, font=dict(family=FONT, color=TXT), **layout)

fig.write_html("out.html", config={"displayModeBar": False},
               post_script="document.body.style.margin='0px';document.body.style.padding='0px';")
